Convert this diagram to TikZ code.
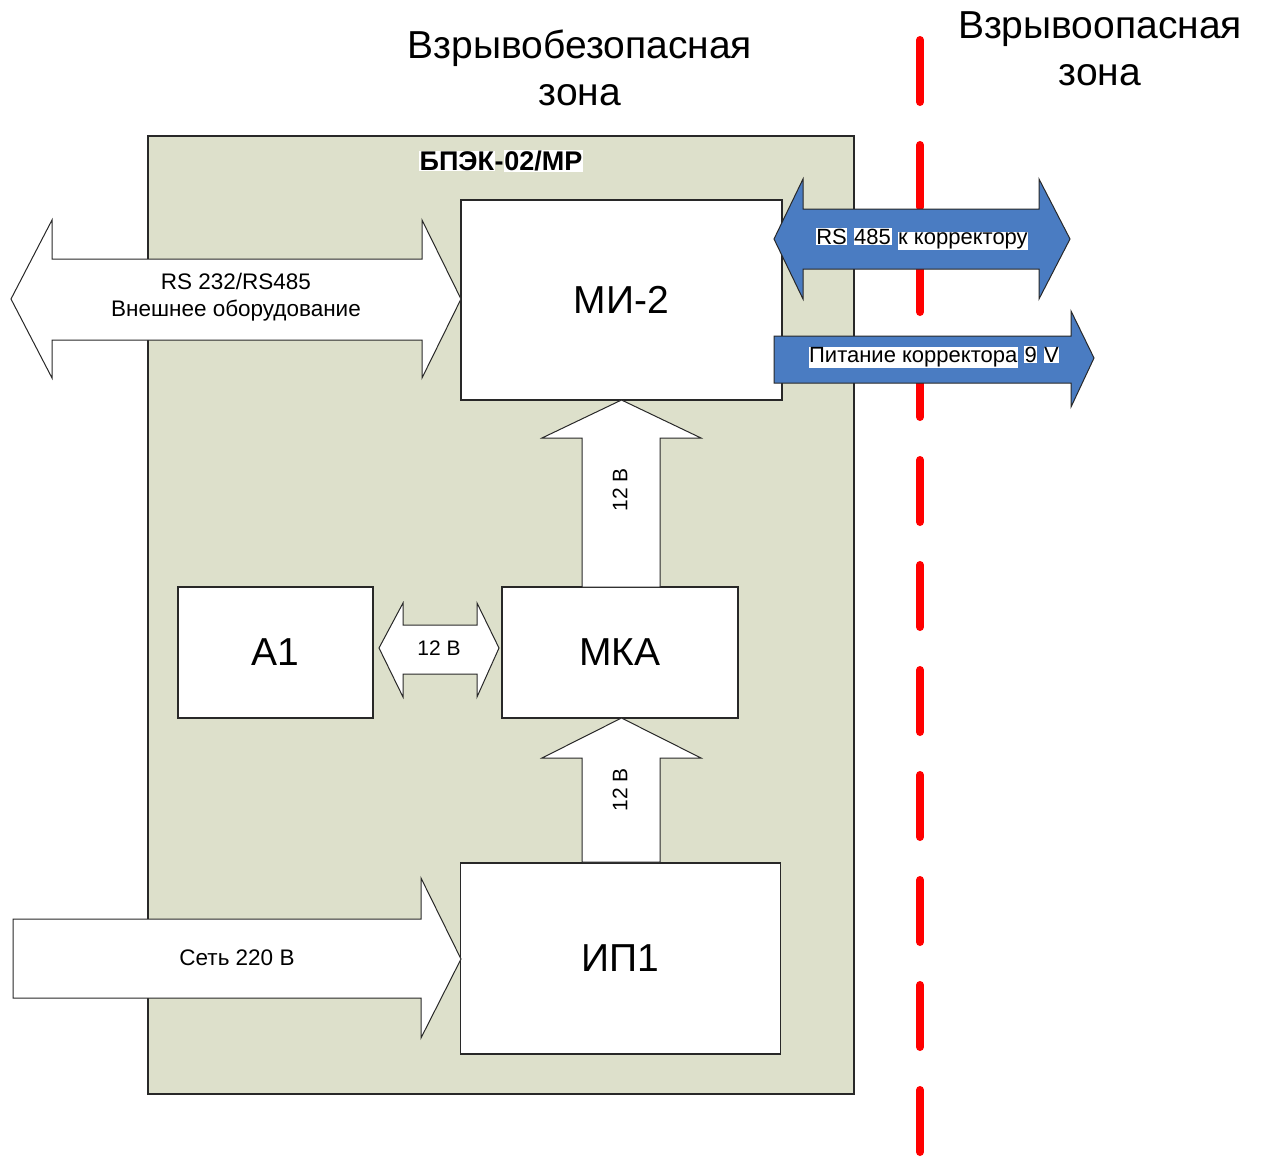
\documentclass[tikz,border=0pt]{standalone}
\usepackage{fontspec}
\setmainfont{Liberation Sans}
\definecolor{panelfill}{RGB}{221,224,203}
\definecolor{arrblue}{RGB}{74,124,194}
\definecolor{edge}{RGB}{40,40,40}
\newcommand\hlw[1]{{\setlength\fboxsep{0.6pt}\colorbox{white}{#1}}}
\begin{document}
\begin{tikzpicture}[x=1pt,y=-1pt,
  panel/.style={draw=edge,fill=panelfill,line width=1.2pt,inner sep=0pt},
  blk/.style={draw=edge,fill=white,line width=1.2pt,inner sep=0pt,font=\fontsize{39}{46}\selectfont},
  warr/.style={draw=edge,fill=white,line width=1pt,line join=miter},
  barr/.style={draw=edge,fill=arrblue,line width=1pt,line join=miter},
  lbl/.style={inner sep=0pt,align=center,font=\fontsize{22.5}{27}\selectfont},
  small/.style={inner sep=0pt,font=\fontsize{21}{25}\selectfont},
  bsmall/.style={inner sep=0pt,font=\fontsize{22}{25}\selectfont},
  zone/.style={inner sep=0pt,align=center,font=\fontsize{39}{47}\selectfont},
  redline/.style={draw=red,line width=8pt,line cap=round,dash pattern=on 62pt off 43pt}]
\useasboundingbox (0,0) rectangle (1261,1159);

% zone titles
\node[zone] (safe) at (580,68) {Взрывобезопасная\\зона};
\node[zone] (haz) at (1100,49) {Взрывоопасная\\зона};

% panel
\node[panel,minimum width=706pt,minimum height=958pt] (bpek) at (501,615) {};
\node[inner sep=0pt,font=\fontsize{27}{32}\selectfont\bfseries] (bpeklbl) at (501,161) {\hlw{БПЭК}-\hlw{02/МР}};

% red boundary
\coordinate (rtop) at (920,40);
\coordinate (rbot) at (920,1170);
\draw[redline] (rtop) -- (rbot);

% blocks
\node[blk,minimum width=321pt,minimum height=200pt] (mi) at (621.5,300) {МИ-2};
\node[blk,minimum width=195pt,minimum height=131pt] (a1) at (275.5,652.5) {А1};
\node[blk,minimum width=236pt,minimum height=131pt] (mka) at (620,652.5) {МКА};
\node[blk,minimum width=320pt,minimum height=191pt] (ip) at (620.5,958.5) {ИП1};

% RS232 double arrow
\draw[warr] (11,299) -- (52,220) -- (52,259) -- (422,259) -- (422,220) -- (461,299)
  -- (422,378) -- (422,340) -- (52,340) -- (52,378) -- cycle;
\node[lbl] (rs232) at (236,297) {RS 232/RS485\\Внешнее оборудование};

% Сеть 220 В arrow
\draw[warr] (13,919) -- (421,919) -- (421,878) -- (461,959) -- (421,1038) -- (421,998) -- (13,998) -- cycle;
\node[lbl] (mains) at (237,958) {Сеть 220 В};

% A1 <-> MKA
\draw[warr] (379,648) -- (403,603) -- (403,625) -- (477,625) -- (477,603) -- (499,648)
  -- (477,697) -- (477,674) -- (403,674) -- (403,697) -- cycle;
\node[small] (v1) at (439,648) {12 В};

% MKA -> MI-2
\draw[warr] (582,587) -- (582,438) -- (542,438) -- (621.5,400) -- (701,438) -- (660,438) -- (660,587) -- cycle;
\node[small,rotate=90] (v2) at (620,490) {12 В};

% IP1 -> MKA
\draw[warr] (582,862) -- (582,758) -- (542,758) -- (621.5,718) -- (701,758) -- (660,758) -- (660,862) -- cycle;
\node[small,rotate=90] (v3) at (620,790) {12 В};

% blue arrows
\draw[barr] (774,239) -- (803,179) -- (803,209) -- (1039,209) -- (1039,179) -- (1070,239)
  -- (1039,299) -- (1039,269) -- (803,269) -- (803,299) -- cycle;
\node[bsmall] (rs485) at (922,239) {\hlw{RS} \hlw{485} \hlw{к корректору}};
\draw[barr] (774,336) -- (1071,336) -- (1071,311) -- (1094,358) -- (1071,407) -- (1071,383) -- (774,383) -- cycle;
\node[bsmall] (pwr) at (934,357) {\hlw{Питание корректора} \hlw{9} \hlw{V}};
\end{tikzpicture}
\end{document}
